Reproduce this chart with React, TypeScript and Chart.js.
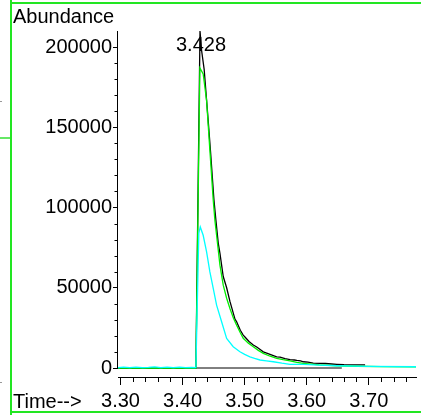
import React, { useEffect, useRef } from 'react';
import { Chart, registerables } from 'chart.js';

Chart.register(...registerables);

const FONT = "'Liberation Sans', Arial, Helvetica, sans-serif";

// ---- axis ranges & ticks ----
const xMin = 3.296;
const xMax = 3.776;
const yMin = -5600;
const yMax = 210000;

const xTickValues = [
  3.3, 3.32, 3.34, 3.36, 3.38, 3.4, 3.42, 3.44, 3.46, 3.48, 3.5, 3.52, 3.54,
  3.56, 3.58, 3.6, 3.62, 3.64, 3.66, 3.68, 3.7, 3.72, 3.74, 3.76,
];
const xMajorLabels = ['3.30', '3.40', '3.50', '3.60', '3.70'];

const yTickValues = [
  0, 10000, 20000, 30000, 40000, 50000, 60000, 70000, 80000, 90000, 100000,
  110000, 120000, 130000, 140000, 150000, 160000, 170000, 180000, 190000, 200000,
];
const yMajorLabels = ['0', '50000', '100000', '150000', '200000'];

// ---- TIC (black) ----
const blackTimes = [
  3.296, 3.32, 3.35, 3.38, 3.41, 3.4215, 3.4281, 3.4306, 3.4348, 3.4413, 3.4452,
  3.4505, 3.4537, 3.4574, 3.4602, 3.4655, 3.471, 3.4763, 3.4844, 3.4871, 3.493,
  3.4977, 3.5005, 3.507, 3.5139, 3.5194, 3.525, 3.53, 3.5355, 3.543, 3.5516,
  3.557, 3.565, 3.5731, 3.58, 3.584, 3.59, 3.5945, 3.602, 3.6105, 3.6215, 3.63,
  3.64, 3.6484, 3.66, 3.675, 3.694,
];
const blackValues = [
  0, 0, 0, 0, 0, 0, 210000, 198000, 186000, 154000, 134000, 105000, 92000,
  78000, 71500, 57000, 50000, 41500, 30500, 28800, 23500, 20500, 19300, 16500,
  14300, 13100, 11500, 10100, 9300, 8200, 7000, 6800, 5800, 5200, 5000, 4700,
  4400, 3900, 3700, 3100, 2900, 2800, 2500, 2300, 2100, 2000, 1900,
];

// ---- ion trace (green) ----
const greenTimes = [
  3.296, 3.32, 3.35, 3.38, 3.41, 3.4215, 3.4279, 3.4332, 3.4387, 3.444, 3.4494,
  3.4521, 3.4548, 3.4602, 3.4655, 3.471, 3.4763, 3.482, 3.4871, 3.493, 3.4977,
  3.506, 3.5139, 3.522, 3.53, 3.54, 3.5516, 3.562, 3.5731, 3.584, 3.5945, 3.62,
  3.6484, 3.68, 3.72, 3.776,
];
const greenValues = [
  0, 0, 0, 0, 0, 0, 187000, 183300, 166700, 135600, 104500, 92000, 82700,
  64100, 51600, 43500, 37100, 31000, 26700, 22000, 18500, 15500, 13300, 11000,
  9100, 7500, 6000, 5200, 4500, 3500, 2900, 2000, 1400, 1100, 900, 800,
];

// ---- ion trace (cyan) ----
const cyanTimes = [
  3.296, 3.305, 3.315, 3.325, 3.335, 3.345, 3.355, 3.365, 3.375, 3.385, 3.395,
  3.405, 3.415, 3.4215, 3.4262, 3.4285, 3.4332, 3.4387, 3.444, 3.4494, 3.4548,
  3.4629, 3.471, 3.4816, 3.4924, 3.5, 3.5085, 3.516, 3.5247, 3.535, 3.5461,
  3.56, 3.5731, 3.5945, 3.62, 3.6484, 3.7, 3.776,
];
const cyanValues = [
  300, 500, 200, 600, 300, 400, 700, 300, 500, 200, 600, 300, 400, 300, 84000,
  87900, 82700, 72300, 59900, 49600, 39200, 28800, 18500, 13300, 10100, 8500,
  7000, 6000, 5000, 4500, 3900, 3000, 2300, 2300, 1800, 1400, 1000, 800,
];

// ---- integration baseline ----
const baselineTimes = [3.4198, 3.6565];
const baselineValues = [0, 0];

const isMajorX = (v: number) => xMajorLabels.includes(Number(v).toFixed(2));
const isMajorY = (v: number) => yMajorLabels.includes(String(v));

const toPoints = (t: number[], v: number[]) => t.map((x, i) => ({ x, y: v[i] }));

const axesPlugin = {
  id: 'msdAxes',
  afterDraw(chart: any) {
    const { ctx, chartArea } = chart;
    const xs = chart.scales.x;
    const ys = chart.scales.y;
    ctx.save();
    ctx.strokeStyle = '#000';
    ctx.lineWidth = 1;
    // y axis line from 0 up to top
    const ax = Math.round(chartArea.left) - 0.5;
    ctx.beginPath();
    ctx.moveTo(ax, Math.round(ys.getPixelForValue(0)) + 0.5);
    ctx.lineTo(ax, chartArea.top);
    ctx.stroke();
    // minor ticks x
    const by = Math.round(chartArea.bottom);
    xs.ticks.forEach((t: any) => {
      if (isMajorX(t.value)) return;
      const px = Math.round(xs.getPixelForValue(t.value)) + 0.5;
      ctx.beginPath();
      ctx.moveTo(px, by);
      ctx.lineTo(px, by + 5);
      ctx.stroke();
    });
    // minor ticks y
    ys.ticks.forEach((t: any) => {
      if (isMajorY(t.value)) return;
      const py = Math.round(ys.getPixelForValue(t.value)) + 0.5;
      ctx.beginPath();
      ctx.moveTo(ax, py);
      ctx.lineTo(ax - 3, py);
      ctx.stroke();
    });
    // peak label
    let pi = 0;
    blackValues.forEach((v, i) => {
      if (v > blackValues[pi]) pi = i;
    });
    const px = xs.getPixelForValue(blackTimes[pi]);
    const py = ys.getPixelForValue(blackValues[pi]);
    ctx.fillStyle = '#000';
    ctx.font = `20px ${FONT}`;
    ctx.textAlign = 'center';
    ctx.textBaseline = 'alphabetic';
    ctx.fillText(blackTimes[pi].toFixed(3), px + 1, py + 20);
    ctx.restore();
  },
};

const lineDs = (t: number[], v: number[], color: string, order: number, w = 1.3) => ({
  data: toPoints(t, v),
  borderColor: color,
  borderWidth: w,
  pointRadius: 0,
  tension: 0,
  fill: false,
  clip: false as any,
  order,
});

export default function App() {
  const ref = useRef<HTMLCanvasElement | null>(null);

  useEffect(() => {
    if (!ref.current) return;
    const chart = new Chart(ref.current, {
      type: 'line',
      data: {
        datasets: [
          lineDs(cyanTimes, cyanValues, '#00ffff', 1),
          lineDs(greenTimes, greenValues, '#00f000', 2),
          lineDs(blackTimes, blackValues, '#000000', 3),
          lineDs(baselineTimes, baselineValues, '#000000', 4, 1),
        ],
      },
      options: {
        responsive: false,
        animation: false,
        events: [],
        layout: { padding: { top: 31, right: 5, left: 0, bottom: 0 } },
        plugins: {
          legend: { display: false },
          tooltip: { enabled: false },
          title: { display: false },
        },
        scales: {
          x: {
            type: 'linear',
            min: xMin,
            max: xMax,
            afterBuildTicks: (s: any) => {
              s.ticks = xTickValues.map((v) => ({ value: v }));
            },
            afterFit: (s: any) => {
              s.height = 38;
            },
            grid: {
              display: true,
              drawOnChartArea: false,
              drawTicks: true,
              tickLength: 8,
              tickWidth: 1,
              tickColor: (c: any) =>
                c.tick && isMajorX(c.tick.value) ? '#000' : 'rgba(0,0,0,0)',
            },
            border: { display: true, color: '#000', width: 1 },
            ticks: {
              autoSkip: false,
              maxRotation: 0,
              minRotation: 0,
              padding: 4,
              color: '#000',
              font: { family: FONT, size: 20 },
              callback: (v: any) => (isMajorX(v) ? Number(v).toFixed(2) : ''),
            },
          },
          y: {
            type: 'linear',
            min: yMin,
            max: yMax,
            afterBuildTicks: (s: any) => {
              s.ticks = yTickValues.map((v) => ({ value: v }));
            },
            afterFit: (s: any) => {
              s.width = 118;
            },
            grid: {
              display: true,
              drawOnChartArea: false,
              drawTicks: true,
              tickLength: 5,
              tickWidth: 1,
              tickColor: (c: any) =>
                c.tick && isMajorY(c.tick.value) ? '#000' : 'rgba(0,0,0,0)',
            },
            border: { display: false },
            ticks: {
              autoSkip: false,
              padding: 1,
              color: '#000',
              font: { family: FONT, size: 20 },
              callback: (v: any) => (isMajorY(v) ? String(v) : ''),
            },
          },
        },
      },
      plugins: [axesPlugin],
    } as any);
    return () => chart.destroy();
  }, []);

  const text: React.CSSProperties = {
    position: 'absolute',
    fontFamily: FONT,
    fontSize: 20,
    lineHeight: '20px',
    color: '#000',
    whiteSpace: 'nowrap',
  };
  const frame = '#22e622';

  return (
    <div
      style={{
        position: 'absolute',
        left: 0,
        top: 0,
        width: 421,
        height: 415,
        background: '#fff',
        overflow: 'hidden',
      }}
    >
      <canvas
        ref={ref}
        width={421}
        height={415}
        style={{ position: 'absolute', left: 0, top: 0, width: 421, height: 415 }}
      />
      <div style={{ ...text, left: 13, top: 6 }}>Abundance</div>
      <div style={{ ...text, left: 13, top: 391 }}>Time--&gt;</div>
      <div style={{ position: 'absolute', left: 10, top: 0, width: 2, height: 415, background: frame }} />
      <div style={{ position: 'absolute', left: 10, top: 2, width: 411, height: 2, background: frame }} />
      <div style={{ position: 'absolute', left: 10, top: 411, width: 411, height: 2, background: frame }} />
      <div style={{ position: 'absolute', left: 0, top: 137, width: 10, height: 1.5, background: '#66e866' }} />
      <div style={{ position: 'absolute', left: 0, top: 101, width: 2, height: 1, background: '#999' }} />
      <div style={{ position: 'absolute', left: 0, top: 382, width: 2, height: 1, background: '#999' }} />
    </div>
  );
}
